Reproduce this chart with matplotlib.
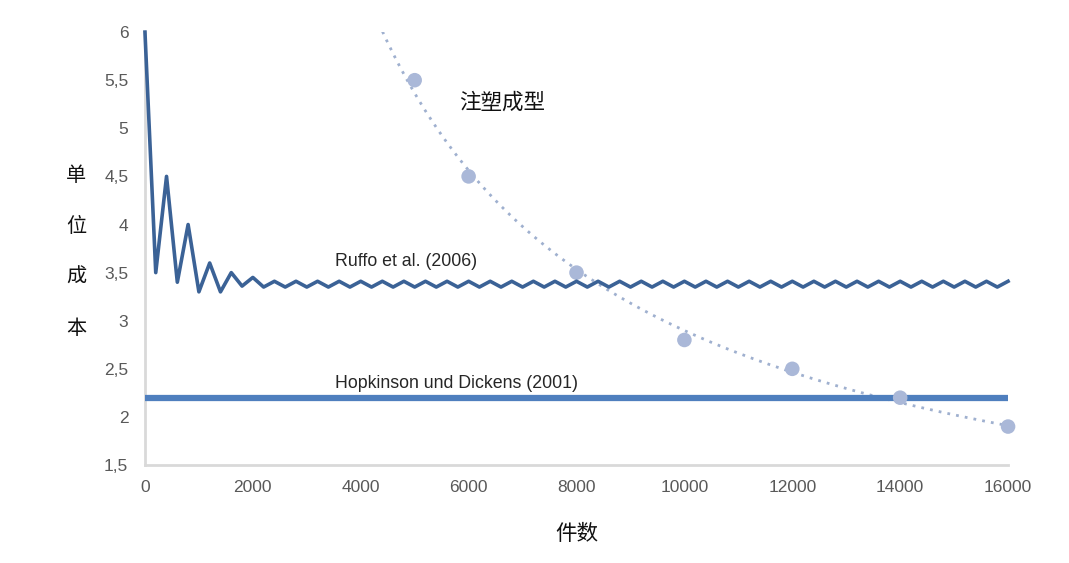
import numpy as np
import matplotlib
matplotlib.use('Agg')
import matplotlib.pyplot as plt

plt.rcParams['font.family'] = ['Liberation Sans', 'Noto Sans CJK SC', 'DejaVu Sans']

ruffo_x = list(range(0, 16001, 200))
ruffo_y = [6.0, 3.5, 4.5, 3.4, 4.0, 3.3, 3.6, 3.3, 3.5, 3.36, 3.45, 3.35] + \
    [3.41, 3.35] * 34 + [3.41]

# Hopkinson und Dickens (2001): konstant
hopkinson_x = [0, 16000]
hopkinson_y = [2.2, 2.2]

# Spritzguss
sg_x = [5000, 6000, 8000, 10000, 12000, 14000, 16000]
sg_y = [5.5, 4.5, 3.5, 2.8, 2.5, 2.2, 1.9]

x_ticks = [0, 2000, 4000, 6000, 8000, 10000, 12000, 14000, 16000]
y_ticks = [1.5, 2, 2.5, 3, 3.5, 4, 4.5, 5, 5.5, 6]
y_labels = ['1,5', '2', '2,5', '3', '3,5', '4', '4,5', '5', '5,5', '6']

COR_RUFFO = '#3b6296'
COR_HOP = '#4f7fbe'
COR_SG = '#aab8d8'
COR_TEXTO = '#595959'

fig = plt.figure(figsize=(10.69, 5.63), dpi=100)
ax = fig.add_axes([0.1356, 0.174, 0.8074, 0.769])

# Potenz-Trendlinie wie in Excel
b, ln_a = np.polyfit(np.log(sg_x), np.log(sg_y), 1)
tx = np.linspace(4000, 16000, 300)
ty = np.exp(ln_a) * tx ** b
ax.plot(tx, ty, color='#9fb0cf', linestyle=(0, (1, 2.2)), linewidth=2, zorder=2)
ax.scatter(sg_x, sg_y, s=110, color=COR_SG, zorder=4, clip_on=False, edgecolors='none')

ax.plot(hopkinson_x, hopkinson_y, color=COR_HOP, linewidth=4.5, solid_capstyle='butt', zorder=3)
ax.plot(ruffo_x, ruffo_y, color=COR_RUFFO, linewidth=2.6, zorder=5, clip_on=False)

ax.set_xlim(0, 16000)
ax.set_ylim(1.5, 6)
ax.set_xticks(x_ticks)
ax.set_xticklabels([str(t) for t in x_ticks])
ax.set_yticks(y_ticks)
ax.set_yticklabels(y_labels)
ax.tick_params(length=0, labelsize=12.5, colors=COR_TEXTO)
ax.tick_params(axis='x', pad=11)
ax.tick_params(axis='y', pad=12)

for lado in ['top', 'right']:
    ax.spines[lado].set_visible(False)
for lado in ['left', 'bottom']:
    ax.spines[lado].set_color('#d9d9d9')
    ax.spines[lado].set_linewidth(2)

ax.text(335 / 1069, 1 - 262 / 563, 'Ruffo et al. (2006)', transform=fig.transFigure,
        fontsize=12.8, color='#262626', va='center', ha='left')
ax.text(335 / 1069, 1 - 383 / 563, 'Hopkinson und Dickens (2001)', transform=fig.transFigure,
        fontsize=12.8, color='#262626', va='center', ha='left')
ax.text(502 / 1069, 1 - 103 / 563, '注塑成型', transform=fig.transFigure,
        fontsize=15.5, color='#111111', va='center', ha='center')
ax.text(577 / 1069, 1 - 535 / 563, '件数', transform=fig.transFigure,
        fontsize=15.5, color='#111111', va='center', ha='center')
ax.text(76 / 1069, 1 - 252 / 563, '单\n位\n成\n本', transform=fig.transFigure,
        fontsize=14.5, color='#111111', va='center', ha='center', linespacing=3.13)

fig.savefig('out.png', dpi=100, facecolor='white')
